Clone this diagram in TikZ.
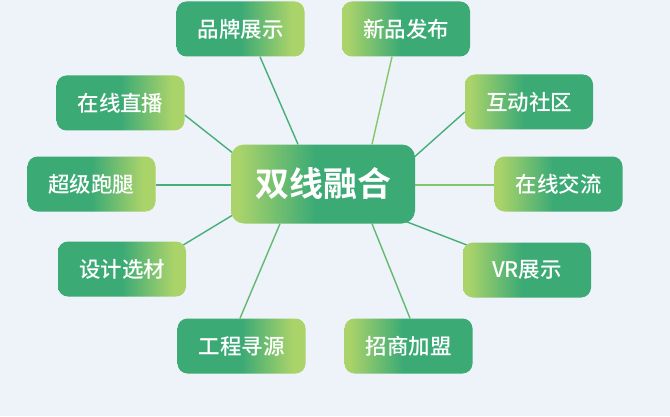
\documentclass[tikz,border=0pt]{standalone}
\usepackage{fontspec}
\usetikzlibrary{backgrounds}
\newfontfamily\cjk{Noto Sans CJK SC Medium}
\newfontfamily\cjkbold{Noto Sans CJK SC Bold}
\definecolor{bg}{HTML}{EEF2F9}
\definecolor{dg}{HTML}{3BAA75}
\definecolor{lg}{HTML}{AAD36A}
\definecolor{linelight}{HTML}{86C66B}
\definecolor{linemid}{HTML}{62B970}
\definecolor{lineteal}{HTML}{48AE78}
\pgfdeclarehorizontalshading{darklight}{100bp}{color(0bp)=(dg); color(25bp)=(dg); color(50bp)=(dg); color(70bp)=(lg); color(75bp)=(lg); color(100bp)=(lg)}
\pgfdeclarehorizontalshading{lightdark}{100bp}{color(0bp)=(lg); color(25bp)=(lg); color(27bp)=(lg); color(48bp)=(dg); color(75bp)=(dg); color(100bp)=(dg)}
\tikzset{
  leaf/.style={rounded corners=10pt, minimum width=128pt, minimum height=55pt, inner sep=0pt,
    text=white, font=\cjk\fontsize{21.5}{25}\selectfont},
  ld/.style={leaf, shading=darklight},
  dl/.style={leaf, shading=lightdark},
  hub/.style={rounded corners=13pt, minimum width=184pt, minimum height=79pt, inner sep=0pt,
    text=white, font=\cjkbold\fontsize{34}{40}\selectfont, shading=lightdark},
  conn/.style={line width=1.4pt},
}
\begin{document}
\begin{tikzpicture}[x=1pt,y=1pt]
\useasboundingbox (0,0) rectangle (670,416);
\node[hub] (c) at (323,232) {双线融合};
\node[ld] (n1) at (240.5,387) {品牌展示};
\node[dl] (n2) at (406,387) {新品发布};
\node[ld] (n3) at (120.5,313) {在线直播};
\node[dl] (n4) at (529,314) {互动社区};
\node[ld] (n5) at (91.5,232) {超级跑腿};
\node[dl] (n6) at (558.5,232) {在线交流};
\node[ld] (n7) at (122,147) {设计选材};
\node[dl] (n8) at (527,146) {VR展示};
\node[ld] (n9) at (241.5,70) {工程寻源};
\node[dl] (n10) at (408.5,70) {招商加盟};
\begin{pgfonlayer}{background}
\fill[bg] (0,0) rectangle (670,416);
\draw[conn, lineteal] ([xshift=19.5pt]n1.south) -- ([xshift=-25pt]c.north);
\draw[conn, linelight] ([xshift=-14pt]n2.south) -- ([xshift=49pt]c.north);
\draw[conn, lineteal] ([yshift=-12pt]n3.east) -- ([xshift=2pt,yshift=31pt]c.west);
\draw[conn, lineteal] ([yshift=-10pt]n4.west) -- ([xshift=-2pt,yshift=26pt]c.east);
\draw[conn, lineteal] ([yshift=-1pt]n5.east) -- ([yshift=-1pt]c.west);
\draw[conn, linelight] ([yshift=-1pt]c.east) -- ([yshift=-1pt]n6.west);
\draw[conn, lineteal] ([xshift=-3pt,yshift=24pt]n7.east) -- ([xshift=2pt,yshift=-31pt]c.west);
\draw[conn, lineteal] ([xshift=4pt,yshift=25pt]n8.west) -- ([xshift=-8pt,yshift=-38pt]c.east);
\draw[conn, linemid] ([xshift=-1.5pt]n9.north) -- ([xshift=-43pt]c.south);
\draw[conn, linemid] ([xshift=1.5pt]n10.north) -- ([xshift=49pt]c.south);
\end{pgfonlayer}
\end{tikzpicture}
\end{document}
